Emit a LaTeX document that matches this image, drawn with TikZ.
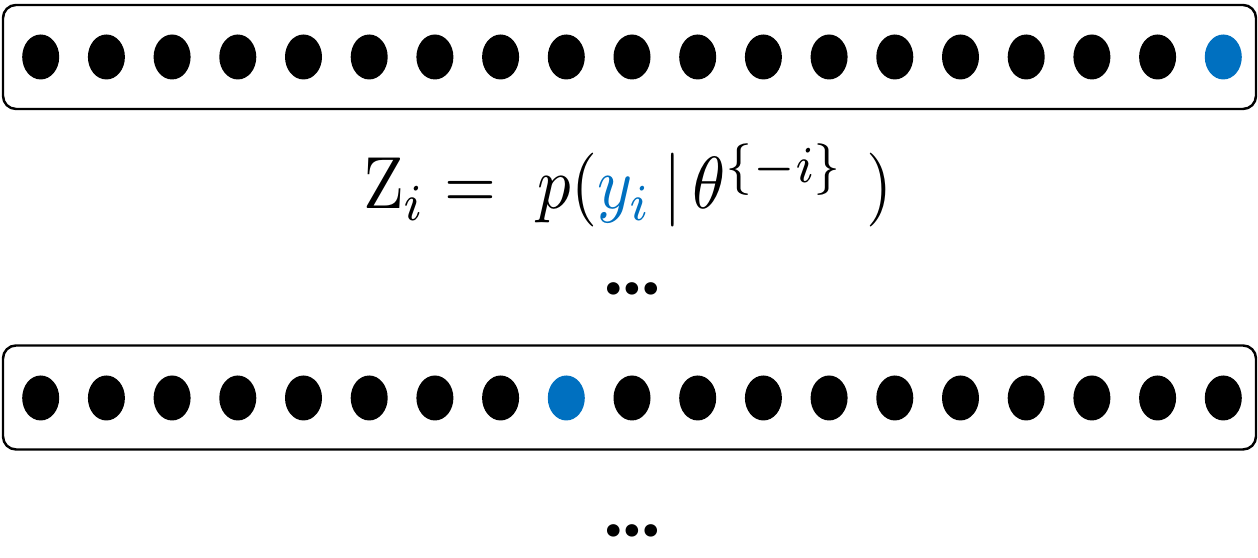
\documentclass[tikz,border=0pt]{standalone}
\usepackage{amsmath}
\usepackage{fontspec}
\usepackage{xcolor}
\usetikzlibrary{positioning,shapes.geometric}
\newfontfamily\gapfont{Carlito}
\definecolor{hiblue}{HTML}{0070C0}

\begin{document}
\begin{tikzpicture}[
  row/.style={draw, rounded corners=1.3mm, line width=0.7pt,
    minimum width=12.53cm, minimum height=1.04cm, inner sep=0pt},
  pt/.style={ellipse, fill=black, minimum width=3.7mm, minimum height=4.5mm, inner sep=0pt},
  hi/.style={pt, fill=hiblue},
  gap/.style={font=\gapfont\bfseries\fontsize{24}{28}\selectfont, inner sep=0pt}
]
\useasboundingbox (0,0) rectangle (12.58,5.58);
% the two rows of points
\node[row] (rowA) at (6.295,5.01) {};
\node[row] (rowB) at (6.295,1.605) {};
\foreach \k in {1,...,19} {
  \ifnum\k=19 \def\s{hi}\else\def\s{pt}\fi
  \node[\s] (a\k) at ({0.407+(\k-1)*0.657},5.01) {};
}
\foreach \k in {1,...,19} {
  \ifnum\k=9 \def\s{hi}\else\def\s{pt}\fi
  \node[\s] (b\k) at ({0.407+(\k-1)*0.657},1.60) {};
}
% formula and gaps
\node[anchor=base, xscale=1.9, yscale=2.1, transform shape] (eq) at (6.28,3.49)
  {$\mathrm{Z}_i =\ p(\textcolor{hiblue}{y_i}\,|\,\theta^{\{-i\}}\ )$};
\node[gap] (gapA) at (6.32,2.69) {…};
\node[gap] (gapB) at (6.32,0.27) {…};
\end{tikzpicture}
\end{document}
